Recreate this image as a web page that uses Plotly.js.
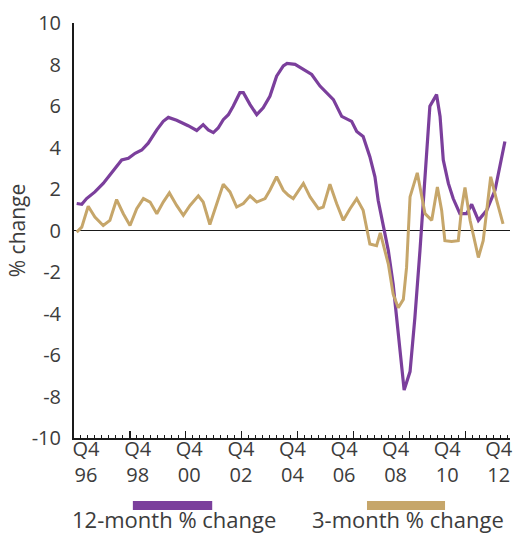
<!DOCTYPE html>
<html>
<head>
<meta charset="utf-8">
<script src="https://cdn.plot.ly/plotly-3.0.1.min.js"></script>
<style>
  html, body { margin: 0; padding: 0; background: #ffffff; }
  #chart { width: 514px; height: 535px; }
</style>
</head>
<body>
<div id="chart"></div>
<script>
// ---- Data, x in decimal years ----
const seriesNames = ["12-month % change", "3-month % change"];

const yearsTwelve = [1996.83,1997.02,1997.20,1997.51,1997.82,1998.20,1998.51,1998.76,1999.01,1999.26,
  1999.50,1999.82,2000.06,2000.25,2000.56,2000.99,2001.31,2001.55,2001.74,2001.93,
  2002.11,2002.30,2002.49,2002.67,2002.92,2003.05,2003.30,2003.55,2003.79,2004.04,
  2004.29,2004.54,2004.68,2004.98,2005.29,2005.60,2005.91,2006.22,2006.41,2006.72,
  2006.91,2007.09,2007.28,2007.52,2007.77,2007.96,2008.08,2008.27,2008.46,2008.64,
  2008.83,2009.05,2009.27,2009.45,2009.64,2009.83,2010.01,2010.26,2010.39,2010.51,
  2010.70,2010.88,2011.13,2011.38,2011.57,2011.82,2012.13,2012.44,2012.63,2012.81];
const twelveMonth = [1.30,1.26,1.54,1.86,2.27,2.91,3.40,3.48,3.72,3.88,
  4.21,4.85,5.26,5.45,5.31,5.05,4.82,5.10,4.85,4.72,
  4.94,5.34,5.58,5.99,6.64,6.64,6.07,5.58,5.91,6.47,
  7.44,7.93,8.05,8.01,7.77,7.52,6.96,6.55,6.31,5.50,
  5.37,5.26,4.77,4.53,3.56,2.59,1.46,0.32,-0.97,-2.59,
  -5.01,-7.69,-6.80,-4.21,-0.97,2.59,5.99,6.55,5.50,3.40,
  2.27,1.54,0.81,0.81,1.26,0.49,0.97,1.94,3.07,4.29];

const yearsThree = [1996.83,1997.02,1997.26,1997.51,1997.82,1998.07,1998.32,1998.57,1998.82,1999.07,
  1999.32,1999.57,1999.82,2000.06,2000.29,2000.56,2000.81,2001.06,2001.37,2001.55,
  2001.80,2002.05,2002.30,2002.55,2002.80,2003.05,2003.30,2003.55,2003.86,2004.04,
  2004.29,2004.54,2004.73,2004.91,2005.29,2005.54,2005.85,2006.03,2006.28,2006.53,
  2006.78,2007.03,2007.28,2007.52,2007.77,2008.02,2008.16,2008.46,2008.64,2008.83,
  2009.02,2009.14,2009.27,2009.54,2009.70,2009.83,2010.08,2010.29,2010.45,2010.57,
  2010.82,2011.07,2011.20,2011.32,2011.51,2011.82,2012.00,2012.28,2012.50,2012.74];
const threeMonth = [-0.08,0.16,1.17,0.65,0.24,0.49,1.49,0.81,0.24,1.05,
  1.54,1.37,0.81,1.37,1.81,1.21,0.73,1.21,1.67,1.37,
  0.29,1.30,2.23,1.86,1.13,1.30,1.67,1.37,1.54,1.94,
  2.59,1.94,1.70,1.54,2.27,1.62,1.05,1.13,2.23,1.30,
  0.49,1.05,1.54,0.97,-0.65,-0.73,-0.12,-1.62,-3.07,-3.72,
  -3.32,-1.78,1.62,2.78,1.62,0.81,0.49,2.10,0.97,-0.49,
  -0.53,-0.49,1.13,2.07,0.49,-1.30,-0.49,2.59,1.46,0.32];

const tickQuarters = ["Q4","Q4","Q4","Q4","Q4","Q4","Q4","Q4","Q4"];
const tickYears = ["96","98","00","02","04","06","08","10","12"];
const yTicks = [-10,-8,-6,-4,-2,0,2,4,6,8,10];

// ---- Styling ----
const purple = "#7b3f9c";
const gold = "#c6a66a";
const textColor = "#3c3c3c";
const fontFam = "'Open Sans', 'Noto Sans', sans-serif";
const xRange = [1996.73, 2013.0];
const labelPos = [1997.18,1999.11,2001.03,2002.96,2004.88,2006.81,2008.73,2010.66,2012.58];

const traces = [
  { x: yearsThree, y: threeMonth, name: seriesNames[1], type: "scatter", mode: "lines",
    xaxis: "x2", yaxis: "y",
    line: { color: gold, width: 3 }, hoverinfo: "skip" },
  { x: yearsTwelve, y: twelveMonth, name: seriesNames[0], type: "scatter", mode: "lines",
    xaxis: "x", yaxis: "y",
    line: { color: purple, width: 3.2 }, hoverinfo: "skip" }
];

const layout = {
  width: 514, height: 535,
  margin: { l: 74, r: 4, t: 23, b: 97 },
  paper_bgcolor: "#ffffff", plot_bgcolor: "#ffffff",
  showlegend: false,
  font: { family: fontFam, size: 20, color: textColor },
  xaxis: {
    range: xRange, showgrid: false, zeroline: false,
    showline: true, linecolor: "#1a1a1a", linewidth: 2,
    tickmode: "linear", tick0: 1996.73, dtick: 2.086,
    ticks: "inside", ticklen: 7, tickwidth: 1.3, tickcolor: "#1a1a1a",
    minor: { tickmode: "linear", tick0: 1996.73, dtick: 0.26075, ticks: "inside", ticklen: 3.5, tickwidth: 1, tickcolor: "#1a1a1a" },
    showticklabels: false, fixedrange: true
  },
  xaxis2: {
    overlaying: "x", anchor: "y", side: "bottom",
    range: xRange, showgrid: false, zeroline: false, showline: false,
    tickmode: "array", tickvals: labelPos,
    ticktext: tickQuarters.map((q, i) => q + "<br>" + tickYears[i]),
    ticks: "", ticklabelstandoff: -3,
    tickfont: { family: fontFam, size: 20, color: textColor },
    fixedrange: true
  },
  yaxis: {
    range: [-10, 10], showgrid: false,
    zeroline: true, zerolinecolor: "#1a1a1a", zerolinewidth: 1.5,
    showline: true, linecolor: "#1a1a1a", linewidth: 2,
    tickmode: "array", tickvals: yTicks, ticktext: yTicks.map(String),
    ticks: "", ticklabelstandoff: 7,
    tickfont: { family: fontFam, size: 20, color: textColor },
    title: { text: "% change", font: { family: fontFam, size: 21, color: textColor }, standoff: 0 },
    fixedrange: true
  },
  shapes: [
    { type: "rect", xref: "paper", yref: "paper", x0: 0.135, x1: 0.317, y0: -0.1735, y1: -0.152,
      fillcolor: purple, line: { width: 0 } },
    { type: "rect", xref: "paper", yref: "paper", x0: 0.672, x1: 0.851, y0: -0.1735, y1: -0.152,
      fillcolor: gold, line: { width: 0 } }
  ],
  annotations: [
    { xref: "paper", yref: "paper", x: 0.2305, y: -0.236, text: seriesNames[0], showarrow: false,
      xanchor: "center", yanchor: "bottom", font: { family: fontFam, size: 22, color: textColor } },
    { xref: "paper", yref: "paper", x: 0.767, y: -0.236, text: seriesNames[1], showarrow: false,
      xanchor: "center", yanchor: "bottom", font: { family: fontFam, size: 22, color: textColor } }
  ]
};

Plotly.newPlot("chart", traces, layout, { staticPlot: true, displayModeBar: false });
</script>
</body>
</html>
